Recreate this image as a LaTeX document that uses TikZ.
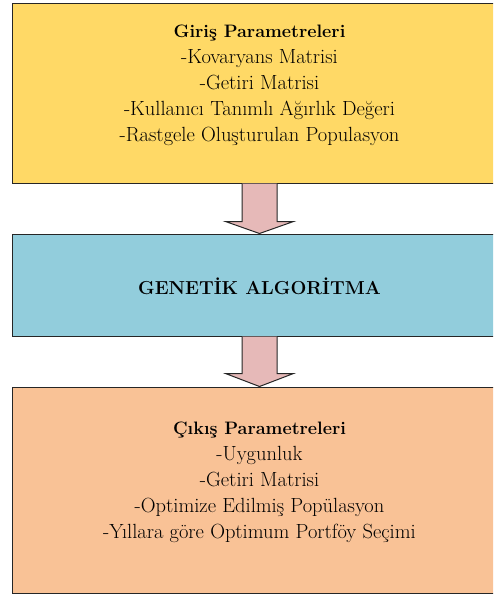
\documentclass[tikz,border=0pt]{standalone}
\usepackage{fontspec}
\definecolor{InGold}{RGB}{255, 217, 102}
\definecolor{AlgoBlue}{RGB}{146, 205, 220}
\definecolor{OutPeach}{RGB}{249, 194, 150}
\definecolor{ArrowPink}{RGB}{230, 185, 184}
\usetikzlibrary{positioning, calc}

\begin{document}
\begin{tikzpicture}[x=1pt, y=1pt,
            panel/.style={rectangle, draw=black!85, line width=1pt, minimum width=495pt, inner sep=0pt},
            txt/.style={align=center, font=\fontsize{20.5}{26}\selectfont, inner sep=0pt},
            head/.style={font=\fontsize{18.8}{26}\selectfont\bfseries},
            bigarrow/.style={draw=black!85, line width=1pt, fill=ArrowPink, line join=miter}
        ]
            \clip (0,0) rectangle (493,-594);

            % boxes
            \node[panel, fill=InGold, minimum height=179pt] (giris) at (259.5,-93.5) {};
            \node[panel, fill=AlgoBlue, minimum height=102pt] (genetik) at (259.5,-285) {};
            \node[panel, fill=OutPeach, minimum height=206pt] (cikis) at (259.5,-490) {};

            % texts
            \node[txt, anchor=north] (giristxt) at (259.5,-24.5) {{\fontsize{18}{26}\selectfont\bfseries Giriş Parametreleri}\\-Kovaryans Matrisi\\-Getiri Matrisi\\-Kullanıcı Tanımlı Ağırlık Değeri\\-Rastgele Oluşturulan Populasyon};
            \node[txt, head] (genetiktxt) at ($(genetik.center)+(0,-1)$) {GENETİK ALGORİTMA};
            \node[txt, anchor=north] (cikistxt) at (259.5,-421.5) {{\fontsize{18}{26}\selectfont\bfseries Çıkış Parametreleri}\\-Uygunluk\\-Getiri Matrisi\\-Optimize Edilmiş Popülasyon\\-Yıllara göre Optimum Portföy Seçimi};

            % block arrows
            \draw[bigarrow] ($(giris.south)+(-17.5,0)$) -- ($(genetik.north)+(-17.5,12)$) -- ($(genetik.north)+(-34,12)$) -- (genetik.north) -- ($(genetik.north)+(34,12)$) -- ($(genetik.north)+(17.5,12)$) -- ($(giris.south)+(17.5,0)$);
            \draw[bigarrow] ($(genetik.south)+(-17.5,0)$) -- ($(cikis.north)+(-17.5,13)$) -- ($(cikis.north)+(-34,13)$) -- (cikis.north) -- ($(cikis.north)+(34,13)$) -- ($(cikis.north)+(17.5,13)$) -- ($(genetik.south)+(17.5,0)$);
        \end{tikzpicture}
\end{document}
